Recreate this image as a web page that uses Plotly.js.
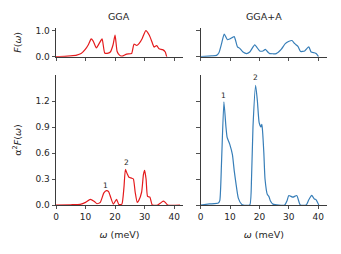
<!DOCTYPE html>
<html>
<head>
<meta charset="utf-8">
<script src="https://cdn.plot.ly/plotly-3.0.1.min.js"></script>
<style>html,body{margin:0;padding:0;background:#fff;}#chart{width:341px;height:254px;}</style>
</head>
<body>
<div id="chart"></div>
<script>
// GGA phonon DOS F(omega)
const ggaFx = [0, 3, 5, 7, 8.5, 9.9, 11.0, 11.9, 12.6, 13.65, 14.6, 15.6, 16.5, 17.3, 18.4, 19.3, 20.0, 20.7, 21.5, 22.4, 23.9, 25.6, 26.4, 27.3, 28.1, 29.2, 30.4, 31.6, 32.7, 33.2, 34.1, 34.9, 36.1, 37.0, 37.4, 37.6];
const ggaFy = [0, 0.01, 0.03, 0.06, 0.12, 0.28, 0.47, 0.68, 0.6, 0.34, 0.5, 0.68, 0.14, 0.13, 0.18, 0.45, 0.83, 0.2, 0.06, 0.02, 0.1, 0.12, 0.48, 0.43, 0.5, 0.7, 1.0, 0.82, 0.5, 0.37, 0.43, 0.3, 0.27, 0.18, 0.03, 0];
// GGA Eliashberg function alpha^2 F(omega)
const ggaAx = [0, 5, 8.2, 10, 11.6, 13, 13.9, 15, 16.2, 17.1, 17.8, 18.5, 19.4, 20.5, 21.3, 22.3, 23.0, 23.5, 24.1, 24.7, 25.6, 26.2, 26.8, 27.5, 28.0, 29.0, 29.6, 30.0, 30.5, 31.0, 31.8, 32.6, 34.4, 35.3, 36.3, 37.0, 37.8, 42];
const ggaAy = [0, 0.003, 0.008, 0.03, 0.065, 0.04, 0.015, 0.03, 0.14, 0.165, 0.155, 0.09, 0.01, 0.065, 0.005, 0.01, 0.2, 0.41, 0.36, 0.32, 0.31, 0.3, 0.15, 0.03, 0.05, 0.15, 0.35, 0.4, 0.3, 0.1, 0.09, 0.0, 0.0, 0.02, 0.045, 0.03, 0, 0];
// GGA+A phonon DOS F(omega)
const ggaaFx = [0, 3.7, 5.4, 6.2, 7.1, 8.0, 9.1, 9.9, 11.4, 12.5, 13.3, 14.4, 15.6, 16.7, 18.4, 20.1, 21.2, 22.0, 23.1, 23.5, 25.7, 27.4, 28.8, 29.9, 31.1, 32.0, 33.1, 34.0, 35.4, 36.8, 37.6, 38.7, 39.3, 40.1];
const ggaaFy = [0, 0.03, 0.05, 0.15, 0.5, 0.87, 0.65, 0.68, 0.77, 0.38, 0.32, 0.18, 0.12, 0.18, 0.45, 0.22, 0.22, 0.28, 0.15, 0.12, 0.12, 0.28, 0.5, 0.58, 0.62, 0.5, 0.4, 0.2, 0.22, 0.38, 0.18, 0.15, 0.12, 0];
// GGA+A Eliashberg function alpha^2 F(omega)
const ggaaAx = [0, 3, 6.0, 6.5, 7.1, 7.9, 8.6, 9.0, 9.9, 10.8, 11.4, 12.0, 12.8, 13.9, 14.5, 16.7, 17.3, 17.8, 18.7, 19.3, 19.9, 20.5, 20.8, 21.0, 21.5, 21.9, 22.7, 23.2, 23.7, 24.6, 28.6, 29.4, 30.0, 31.4, 32.7, 33.9, 35.9, 36.8, 37.8, 38.7, 39.3, 40.2];
const ggaaAy = [0, 0.012, 0.023, 0.05, 0.5, 1.19, 0.9, 0.78, 0.7, 0.58, 0.4, 0.25, 0.08, 0.01, 0, 0, 0.3, 0.9, 1.38, 1.2, 0.95, 0.9, 0.93, 0.88, 0.6, 0.3, 0.12, 0.1, 0.05, 0.01, 0, 0.05, 0.11, 0.09, 0.11, 0, 0, 0.06, 0.11, 0.07, 0.06, 0];
// Peak labels
const peakLabels = ['1', '2'];
const ggaPeakX = [16.7, 23.7];
const ggaPeakY = [0.23, 0.49];
const ggaaPeakX = [7.6, 18.7];
const ggaaPeakY = [1.26, 1.47];
const xTicks = [0, 10, 20, 30, 40];
const topYTicks = [0, 1];
const botYTicks = [0, 0.3, 0.6, 0.9, 1.2];

const red = '#e41a1c', blue = '#377eb8', ink = '#262626';
const font = {family: 'DejaVu Sans, sans-serif', size: 9, color: ink};

function tr(x, y, color, xa, ya) {
  return {x: x, y: y, type: 'scatter', mode: 'lines', xaxis: xa, yaxis: ya,
    line: {color: color, width: 1.2, shape: 'spline', smoothing: 0.5}, hoverinfo: 'none', showlegend: false};
}
const data = [
  tr(ggaFx, ggaFy, red, 'x', 'y'),
  tr(ggaaFx, ggaaFy, blue, 'x2', 'y2'),
  tr(ggaAx, ggaAy, red, 'x3', 'y3'),
  tr(ggaaAx, ggaaAy, blue, 'x4', 'y4')
];

function xax(dom, labels, anchor, title) {
  const a = {domain: dom, range: [0, 43], tickvals: xTicks, ticktext: xTicks.map(String),
    showticklabels: labels, ticks: 'outside', ticklen: 3.5, tickwidth: 0.8, tickcolor: ink,
    showline: true, linecolor: ink, linewidth: 0.9, showgrid: false, zeroline: false,
    anchor: anchor, tickfont: font, fixedrange: true};
  if (title) a.title = {text: '<i>ω</i> (meV)', font: {family: font.family, size: 9.5, color: ink}, standoff: 10};
  return a;
}
function yax(dom, range, ticks, labels, anchor, title) {
  const a = {domain: dom, range: range, tickvals: ticks, ticktext: ticks.map(v => v.toFixed(1)),
    showticklabels: labels, ticks: 'outside', ticklen: 3.5, tickwidth: 0.8, tickcolor: ink,
    showline: true, linecolor: ink, linewidth: 0.9, showgrid: false, zeroline: false,
    anchor: anchor, tickfont: font, fixedrange: true};
  if (title) a.title = {text: title, font: {family: font.family, size: 9.5, color: ink}, standoff: 12};
  return a;
}
const xL = [56/341, 183/341], xR = [200.7/341, 327/341];
const yT = [1 - 56.7/254, 1 - 28/254], yB = [1 - 205/254, 1 - 75/254];

const anns = [];
peakLabels.forEach((t, i) => {
  anns.push({x: ggaPeakX[i], y: ggaPeakY[i], xref: 'x3', yref: 'y3', text: t, showarrow: false, font: {family: font.family, size: 7.5, color: ink}});
  anns.push({x: ggaaPeakX[i], y: ggaaPeakY[i], xref: 'x4', yref: 'y4', text: t, showarrow: false, font: {family: font.family, size: 7.5, color: ink}});
});
anns.push({x: (xL[0] + xL[1]) / 2, y: 1 - 17/254, xref: 'paper', yref: 'paper', xanchor: 'center', yanchor: 'middle', text: 'GGA', showarrow: false, font: {family: font.family, size: 9.5, color: ink}});
anns.push({x: (xR[0] + xR[1]) / 2, y: 1 - 17/254, xref: 'paper', yref: 'paper', xanchor: 'center', yanchor: 'middle', text: 'GGA+A', showarrow: false, font: {family: font.family, size: 9.5, color: ink}});

const layout = {
  width: 341, height: 254, margin: {l: 0, r: 0, t: 0, b: 0},
  paper_bgcolor: '#fff', plot_bgcolor: '#fff', font: font, showlegend: false,
  xaxis: xax(xL, false, 'y'),
  yaxis: yax(yT, [0, 1.1], topYTicks, true, 'x', '<i>F</i>(<i>ω</i>)'),
  xaxis2: xax(xR, false, 'y2'),
  yaxis2: yax(yT, [0, 1.1], topYTicks, false, 'x2'),
  xaxis3: xax(xL, true, 'y3', true),
  yaxis3: yax(yB, [0, 1.5], botYTicks, true, 'x3', 'α<sup>2</sup><i>F</i>(<i>ω</i>)'),
  xaxis4: xax(xR, true, 'y4', true),
  yaxis4: yax(yB, [0, 1.5], botYTicks, false, 'x4'),
  annotations: anns
};
Plotly.newPlot('chart', data, layout, {displayModeBar: false, staticPlot: true});
</script>
</body>
</html>
